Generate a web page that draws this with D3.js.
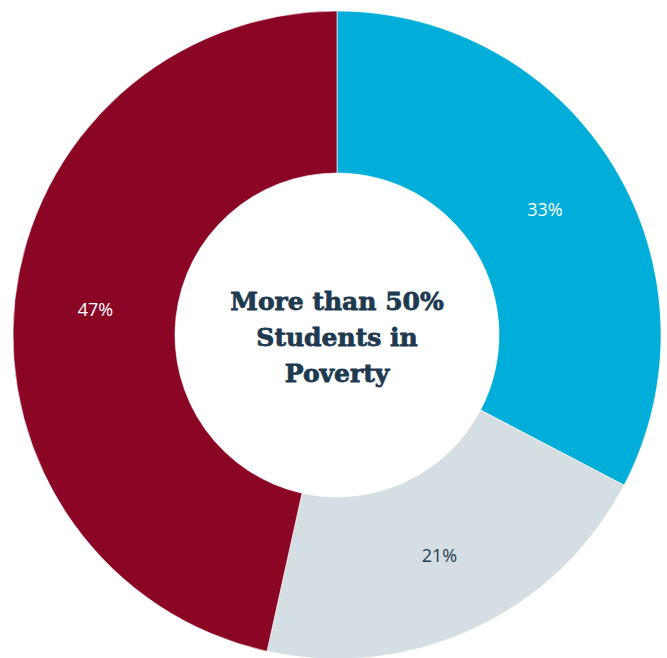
<!DOCTYPE html>
<html>
<head>
<meta charset="utf-8">
<script src="https://cdn.jsdelivr.net/npm/d3@7"></script>
<style>
  body { margin: 0; background: #fff; }
  svg { display: block; }
</style>
</head>
<body>
<svg width="667" height="658"></svg>
<script>
const width = 667, height = 658;
const cx = 337, cy = 335;
const outerR = 324, innerR = 162;
const svg = d3.select("svg");

// slice data
const categories = ["Group A", "Group B", "Group C"];
const values = [33, 21, 47];
const labels = ["33%", "21%", "47%"];
const colors = ["#00AED9", "#D5DEE3", "#8B0625"];
const labelColors = ["#ffffff", "#253D50", "#ffffff"];
const centerLines = ["More than 50%", "Students in", "Poverty"];

const pie = d3.pie().sort(null).value(d => d);
const arcs = pie(values);

const arcGen = d3.arc()
    .innerRadius(innerR)
    .outerRadius(outerR);

const g = svg.append("g")
    .attr("transform", `translate(${cx}, ${cy})`);

g.selectAll("path")
    .data(arcs)
    .join("path")
    .attr("d", arcGen)
    .attr("fill", (d, i) => colors[i])
    .attr("stroke", "#fff")
    .attr("stroke-width", 0.6);

// percentage labels at arc centroids
g.selectAll("text.pct")
    .data(arcs)
    .join("text")
    .attr("class", "pct")
    .attr("x", d => arcGen.centroid(d)[0])
    .attr("y", d => arcGen.centroid(d)[1])
    .attr("text-anchor", "middle")
    .attr("dominant-baseline", "central")
    .style("font-family", "'Open Sans', 'Noto Sans', sans-serif")
    .style("font-size", "18px")
    .style("fill", (d, i) => labelColors[i])
    .text((d, i) => labels[i]);

// center title
g.selectAll("text.center")
    .data(centerLines)
    .join("text")
    .attr("class", "center")
    .attr("x", 0)
    .attr("y", (d, i) => (i - 1) * 36 + 2)
    .attr("text-anchor", "middle")
    .attr("dominant-baseline", "central")
    .style("font-family", "'DejaVu Serif', serif")
    .style("font-weight", "bold")
    .style("font-size", "25px")
    .style("fill", "#1E3A50")
    .style("stroke", "#1E3A50")
    .style("stroke-width", 0.8)
    .text(d => d);
</script>
</body>
</html>
